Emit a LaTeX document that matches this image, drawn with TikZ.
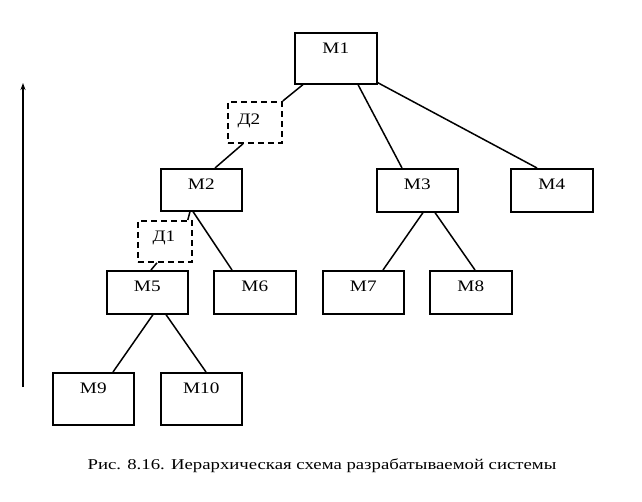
\documentclass[tikz,border=0pt]{standalone}
\usepackage{fontspec}
\setmainfont{Liberation Serif}
\usetikzlibrary{calc,arrows.meta}
\newcommand{\wide}[2]{\scalebox{#1}[1]{#2}}
\begin{document}
\begin{tikzpicture}[x=1pt,y=-1pt,
  mbox/.style={draw,line width=1.6pt,inner sep=0pt,minimum width=#1,anchor=north west},
  dbox/.style={draw,line width=1.8pt,dash pattern=on 6pt off 4pt,inner sep=0pt,minimum width=54pt,minimum height=41pt,anchor=north west},
  lbl/.style={font=\fontsize{16}{16}\selectfont,inner sep=0pt},
  conn/.style={line width=1.5pt}]
\useasboundingbox[fill=white] (0,0) rectangle (642,502);
% boxes
\node[mbox=82pt,minimum height=51pt] (m1) at (294,32) {};
\node[dbox] (d2) at (227,101) {};
\node[mbox=81pt,minimum height=42pt] (m2) at (160,168) {};
\node[mbox=81pt,minimum height=43pt] (m3) at (376,168) {};
\node[mbox=82pt,minimum height=43pt] (m4) at (510,168) {};
\node[dbox] (d1) at (137,220) {};
\node[mbox=81pt,minimum height=43pt] (m5) at (106,270) {};
\node[mbox=82pt,minimum height=43pt] (m6) at (213,270) {};
\node[mbox=81pt,minimum height=43pt] (m7) at (322,270) {};
\node[mbox=82pt,minimum height=43pt] (m8) at (429,270) {};
\node[mbox=81pt,minimum height=52pt] (m9) at (52,372) {};
\node[mbox=81pt,minimum height=52pt] (m10) at (160,372) {};
% labels
\foreach \n/\t in {m1/М1,m2/М2,m3/М3,m4/М4,m5/М5,m6/М6,m7/М7,m8/М8,m9/М9,m10/М10}{
  \node[lbl] at ($(\n.north)+(0,16)$) {\wide{1.2}{\t}};
}
\node[lbl] at ($(d2.center)+(-6,-1)$) {\wide{1.2}{Д2}};
\node[lbl] at ($(d1.center)+(-1,-3)$) {\wide{1.2}{Д1}};
% connectors
\draw[conn] ($(m1.south west)+(9,0)$) -- (d2.north east);
\draw[conn] ($(d2.south west)+(16,0)$) -- ($(m2.north west)+(55,0)$);
\draw[conn] ($(m2.south west)+(30,0)$) -- ($(d1.north east)+(-5,0)$);
\draw[conn] ($(d1.south west)+(20,0)$) -- ($(m5.north west)+(45,0)$);
\draw[conn] ($(m2.south west)+(33,0)$) -- ($(m6.north west)+(19,0)$);
\draw[conn] ($(m1.south west)+(64,0)$) -- ($(m3.north west)+(26,0)$);
\draw[conn] ($(m1.south east)+(0,-2)$) -- ($(m4.north west)+(27,0)$);
\draw[conn] ($(m3.south west)+(47,0)$) -- ($(m7.north west)+(61,0)$);
\draw[conn] ($(m3.south west)+(59,0)$) -- ($(m8.north west)+(46,0)$);
\draw[conn] ($(m5.south west)+(47,0)$) -- ($(m9.north west)+(61,0)$);
\draw[conn] ($(m5.south west)+(60,0)$) -- ($(m10.north west)+(46,0)$);
% axis arrow
\coordinate (ab) at (23,387);
\coordinate (at) at (23,83);
\draw[line width=1.5pt,-{Stealth[length=7pt,width=5pt]}] (ab) -- (at);
% caption
\node[font=\fontsize{15}{15}\selectfont,inner sep=0pt] (cap) at (322,466) {\wide{1.25}{Рис. 8.16. Иерархическая схема разрабатываемой системы}};
\end{tikzpicture}
\end{document}
